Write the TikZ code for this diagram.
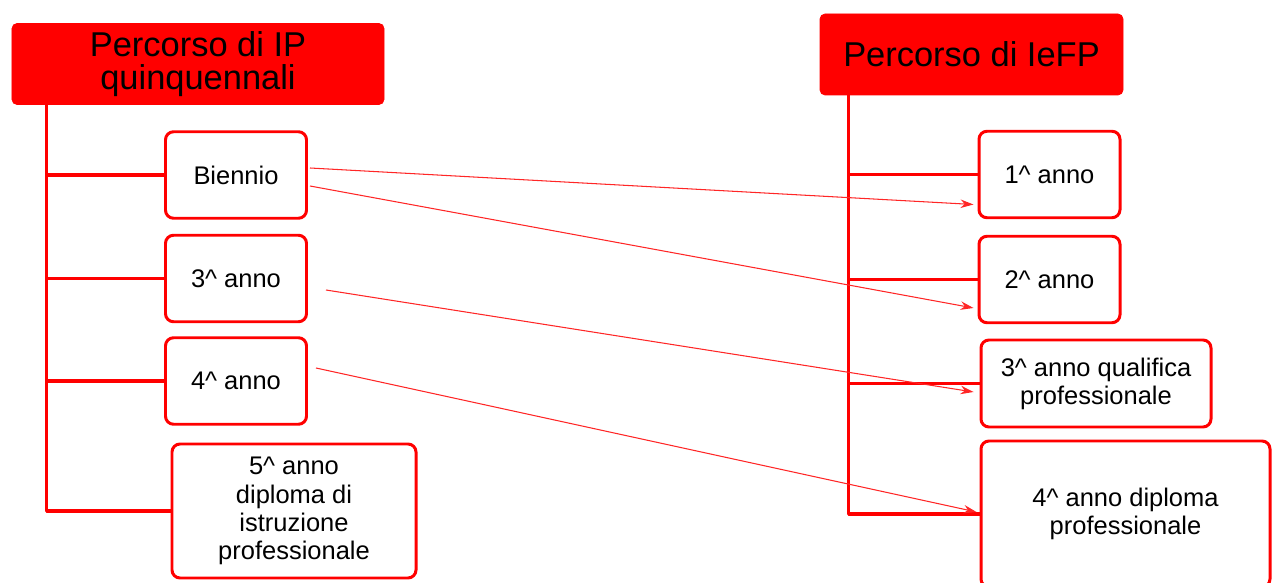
\documentclass[tikz,border=0pt]{standalone}
\usepackage{fontspec}
\setmainfont{Liberation Sans}
\usetikzlibrary{arrows.meta}

\begin{document}
\begin{tikzpicture}[x=0.2mm,y=-0.2mm,line join=round,
  headbox/.style={fill=hdred,draw=hdred,rounded corners=1mm,inner sep=0pt,align=center,
    font=\fontsize{19.6}{19}\selectfont},
  yearbox/.style={draw=hdred,fill=white,line width=1.7pt,rounded corners=1.6mm,inner sep=0pt,
    align=center,font=\fontsize{14.5}{16}\selectfont},
  trunk/.style={draw=hdred,line width=1.9pt},
  link/.style={draw=hdred!85,line width=0.6pt,-{Stealth[length=2.6mm,width=1.7mm]}}]
\definecolor{hdred}{RGB}{255,0,0}
\useasboundingbox (0,0) rectangle (1272,583);
% the two heads
\node[headbox,minimum width=74.4mm,minimum height=16.2mm] (iphead) at (198,64) {Percorso di IP\\quinquennali};
\node[headbox,minimum width=60.6mm,minimum height=16.2mm] (fphead) at (971.5,54.5) {Percorso di IeFP};
% IP years, left column
\foreach \n/\y/\t in {biennio/175/Biennio, ip3/278.5/3\textasciicircum{} anno, ip4/381/4\textasciicircum{} anno}{
  \node[yearbox,minimum width=28.2mm,minimum height=17.3mm] (\n) at (236,\y) {\t};}
\node[yearbox,minimum width=48.8mm,minimum height=26.8mm] (ip5) at (294,511)
  {5\textasciicircum{} anno\\diploma di\\istruzione\\professionale};
% IeFP years, right column
\foreach \n/\y/\t in {fp1/174.5/1\textasciicircum{} anno, fp2/279.5/2\textasciicircum{} anno}{
  \node[yearbox,minimum width=28.2mm,minimum height=17.3mm] (\n) at (1049.5,\y) {\t};}
\node[yearbox,minimum width=46mm,minimum height=17.4mm] (fp3) at (1096,383.5)
  {3\textasciicircum{} anno qualifica\\professionale};
\node[yearbox,minimum width=57.8mm,minimum height=29.2mm] (fp4) at (1125.5,514)
  {4\textasciicircum{} anno diploma\\professionale};
% trunks and branches
\draw[trunk] ([shift={(35,0)}]iphead.south west) coordinate (ltop) |- (ip5.west);
\foreach \n in {biennio,ip3,ip4}{\draw[trunk] (\n.west) -- (\n.west -| ltop);}
\draw[trunk] ([shift={(29,0)}]fphead.south west) coordinate (rtop) |- (fp4.west);
\foreach \n in {fp1,fp2,fp3}{\draw[trunk] (\n.west) -- (\n.west -| rtop);}
% correspondences IP -> IeFP
\draw[link] ([shift={(2,-7)}]biennio.east) -- ([shift={(-4,30)}]fp1.west);
\draw[link] ([shift={(2,11)}]biennio.east) -- ([shift={(-4,28.5)}]fp2.west);
\draw[link] ([shift={(18,11.5)}]ip3.east) -- ([shift={(-6,8.5)}]fp3.west);
\draw[link] ([shift={(8,-13)}]ip4.east) -- ([shift={(-3,-2)}]fp4.west);
\end{tikzpicture}
\end{document}
